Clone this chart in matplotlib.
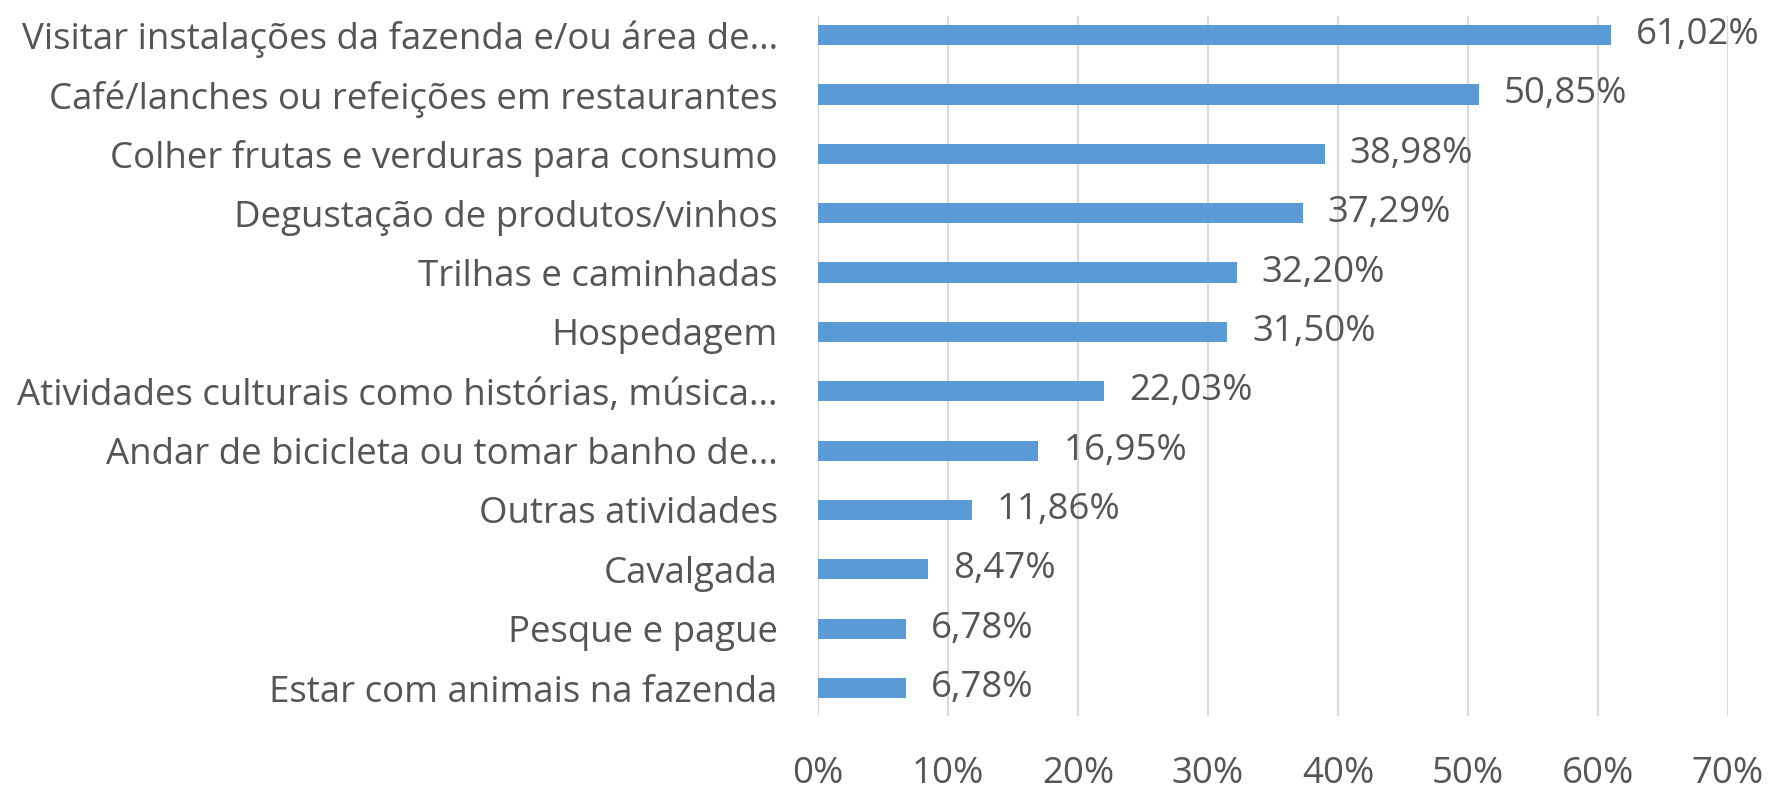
import matplotlib
matplotlib.use("Agg")
import matplotlib.pyplot as plt
import numpy as np

# categories top to bottom, as shown in the chart
categories = [
    "Visitar instalações da fazenda e/ou área de...",
    "Café/lanches ou refeições em restaurantes",
    "Colher frutas e verduras para consumo",
    "Degustação de produtos/vinhos",
    "Trilhas e caminhadas",
    "Hospedagem",
    "Atividades culturais como histórias, música...",
    "Andar de bicicleta ou tomar banho de...",
    "Outras atividades",
    "Cavalgada",
    "Pesque e pague",
    "Estar com animais na fazenda",
]
values = [61.02, 50.85, 38.98, 37.29, 32.20, 31.50, 22.03, 16.95, 11.86, 8.47, 6.78, 6.78]
xticks = [0, 10, 20, 30, 40, 50, 60, 70]

text_color = "#555555"
bar_color = "#5B9BD5"
grid_color = "#D9D9D9"

plt.rcParams['font.family'] = ['Open Sans', 'DejaVu Sans']
fs = 26.4

fig = plt.figure(figsize=(17.77, 8.07), dpi=100)
ax = fig.add_axes([0.4603, 0.1128, 0.9724 - 0.4603, 0.980 - 0.1128])

y = np.arange(len(categories))
ax.barh(y, values, height=0.34, color=bar_color, zorder=3)

for yi, v in zip(y, values):
    label = f"{v:.2f}".replace(".", ",") + "%"
    ax.annotate(label, (v, yi), xytext=(18, 0), textcoords="offset points",
                va="center", ha="left", fontsize=fs, color=text_color)

ax.set_xlim(0, 70)
ax.set_ylim(11.47, -0.32)
ax.set_xticks(xticks)
ax.set_xticklabels([f"{t}%" for t in xticks])
ax.set_yticks(y)
ax.set_yticklabels(categories)

ax.tick_params(axis="x", length=0, pad=29, labelsize=fs, colors=text_color)
ax.tick_params(axis="y", length=0, pad=29, labelsize=fs, colors=text_color)

ax.grid(axis="x", color=grid_color, linewidth=1.5, zorder=0)
for s in ax.spines.values():
    s.set_visible(False)

fig.savefig("out.png", dpi=100)
